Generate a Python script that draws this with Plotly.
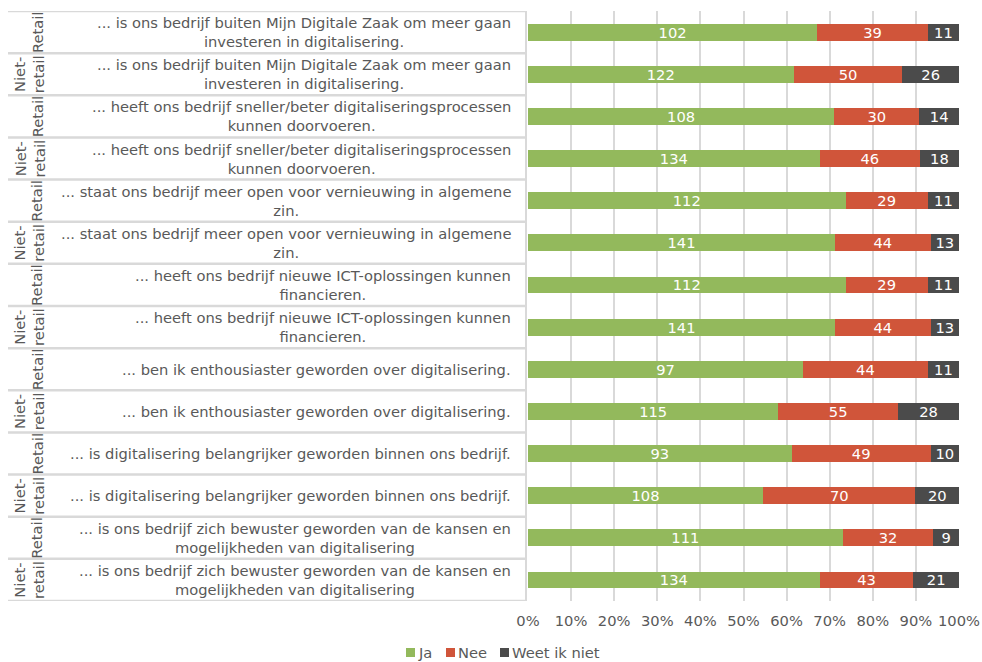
import plotly.graph_objects as go

# Survey answers per statement, split by sector (top to bottom)
groups = ["Retail", "Niet-retail"] * 7
statements = [
    "... is ons bedrijf buiten Mijn Digitale Zaak om meer gaan<br>investeren in digitalisering.",
    "... heeft ons bedrijf sneller/beter digitaliseringsprocessen<br>kunnen doorvoeren.",
    "... staat ons bedrijf meer open voor vernieuwing in algemene<br>zin.",
    "... heeft ons bedrijf nieuwe ICT-oplossingen kunnen<br>financieren.",
    "... ben ik enthousiaster geworden over digitalisering.",
    "... is digitalisering belangrijker geworden binnen ons bedrijf.",
    "... is ons bedrijf zich bewuster geworden van de kansen en<br>mogelijkheden van digitalisering",
]
ja = [102, 122, 108, 134, 112, 141, 112, 141, 97, 115, 93, 108, 111, 134]
nee = [39, 50, 30, 46, 29, 44, 29, 44, 44, 55, 49, 70, 32, 43]
weet_niet = [11, 26, 14, 18, 11, 13, 11, 13, 11, 28, 10, 20, 9, 21]
x_ticks = list(range(0, 101, 10))
x_tick_labels = [f"{v}%" for v in x_ticks]

series = [("Ja", ja, "#93B95C"), ("Nee", nee, "#D0553A"), ("Weet ik niet", weet_niet, "#4B4B4B")]

W, H = 982, 662
L, R, T, B = 528, 23, 11, 61
pw, ph = W - L - R, H - T - B
n = len(ja)
rows = list(range(n))


def px_x(px):
    return (px - L) / pw


def px_y(py):
    return 1 - (py - T) / ph


FONT = "Verdana, DejaVu Sans, sans-serif"
GREY = "#595959"
LINE = "#D9D9D9"
FS = 14.7

fig = go.Figure()
for name, vals, color in series:
    fig.add_trace(go.Bar(
        name=name, y=rows, x=vals, orientation="h",
        marker=dict(color=color, line=dict(width=0)),
        width=0.4, showlegend=False,
        text=[str(v) for v in vals], textposition="inside", textangle=0,
        insidetextanchor="middle", constraintext="none",
        textfont=dict(color="white", size=FS, family=FONT),
    ))

annotations = []
shapes = []
for i in rows:
    q = statements[i // 2]
    annotations.append(dict(
        xref="paper", yref="y", x=px_x(513), y=i, xanchor="right", yanchor="middle",
        text=q, align="center", showarrow=False,
        font=dict(size=FS, color=GREY, family=FONT),
    ))
    g = groups[i]
    label = "Niet-<br>retail" if g == "Niet-retail" else "Retail"
    annotations.append(dict(
        xref="paper", yref="y", x=px_x(29 if g == "Niet-retail" else 37), y=i,
        xanchor="center", yanchor="middle", text=label, textangle=-90,
        align="center", showarrow=False,
        font=dict(size=FS, color=GREY, family=FONT),
    ))

# Left-hand table grid
for k in range(n + 1):
    yb = k - 0.5
    shapes.append(dict(type="line", xref="paper", yref="y", x0=px_x(8), x1=px_x(526),
                       y0=yb, y1=yb, line=dict(color=LINE, width=2.5)))
shapes.append(dict(type="line", xref="paper", yref="y", x0=px_x(526), x1=px_x(526),
                   y0=-0.5, y1=n - 0.5, line=dict(color=LINE, width=2)))

# Legend entries: small square followed by the series name
legend_x = [406, 446, 500]
for (name, _, color), lx in zip(series, legend_x):
    shapes.append(dict(type="rect", xref="paper", yref="paper",
                       x0=px_x(lx), x1=px_x(lx + 9), y0=px_y(657), y1=px_y(648),
                       fillcolor=color, line=dict(width=0)))
    annotations.append(dict(
        xref="paper", yref="paper", x=px_x(lx + 10), y=px_y(652.5),
        xanchor="left", yanchor="middle", text=name, showarrow=False,
        font=dict(size=FS, color=GREY, family=FONT),
    ))

fig.update_layout(
    width=W, height=H, barmode="stack", barnorm="percent",
    margin=dict(l=L, r=R, t=T, b=B, pad=0, autoexpand=False),
    paper_bgcolor="white", plot_bgcolor="white",
    font=dict(family=FONT, size=FS, color=GREY),
    uniformtext=dict(minsize=FS, mode="show"),
    showlegend=False,
    xaxis=dict(range=[0, 100], tickmode="array", tickvals=x_ticks, ticktext=x_tick_labels,
               showgrid=True, gridcolor=LINE, gridwidth=2, zeroline=False,
               showline=False, ticks="outside", ticklen=6, tickcolor="rgba(0,0,0,0)",
               tickfont=dict(size=FS, color=GREY), fixedrange=True),
    yaxis=dict(range=[n - 0.5, -0.5], showticklabels=False, showgrid=False,
               zeroline=False, showline=False, ticks=""),
    annotations=annotations, shapes=shapes,
)

fig.write_html("out.html")
